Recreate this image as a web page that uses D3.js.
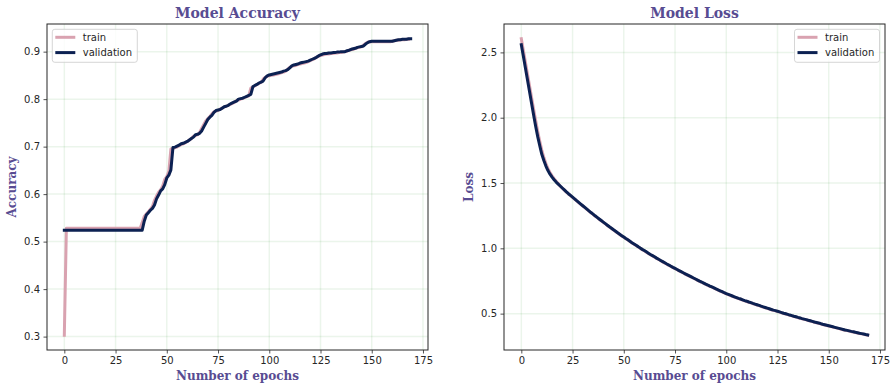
<!DOCTYPE html>
<html><head><meta charset="utf-8">
<script src="https://cdn.jsdelivr.net/npm/d3@7"></script>
<style>body{margin:0;background:#fff}svg{display:block}</style>
</head><body><svg id="c" width="895" height="391"></svg>
<script>
// ---------- data ----------
const epochs = d3.range(170);
const xTicks = [0,25,50,75,100,125,150,175];
const accTicks = [0.3,0.4,0.5,0.6,0.7,0.8,0.9];
const lossTicks = [0.5,1.0,1.5,2.0,2.5];
const seriesNames = ["train","validation"];

const trainAcc = [0.303,
0.528,0.528,0.528,0.528,0.528,0.528,0.528,0.528,0.528,0.528,0.528,0.528,0.528,0.528,0.528,0.528,0.528,0.528,0.528,
0.528,0.528,0.528,0.528,0.528,0.528,0.528,0.528,0.528,0.528,0.528,0.528,0.528,0.528,0.528,0.528,0.528,0.528,
0.540,0.553,0.558,0.563,0.568,0.574,0.587,0.596,0.604,0.609,0.617,
0.631,0.637,0.648,0.695,0.696,0.698,0.699,0.702,0.704,0.706,
0.708,0.711,0.714,0.717,0.722,0.723,0.725,0.730,0.738,0.746,
0.754,0.759,0.763,0.769,0.773,0.775,0.776,0.779,0.781,0.783,
0.785,0.787,0.789,0.791,0.793,0.797,0.798,0.800,0.801,0.803,
0.805,0.807,0.823,0.826,0.828,0.831,0.833,0.835,0.842,0.846,
0.848,0.849,0.850,0.851,0.852,0.853,0.854,0.856,0.857,0.859,
0.863,0.867,0.869,0.870,0.871,0.873,0.874,0.875,0.876,0.877,
0.879,0.881,0.883,0.885,0.888,0.890,0.892,0.893,0.894,0.895,
0.895,0.896,0.896,0.897,0.897,0.898,0.898,0.899,0.900,0.901,
0.903,0.904,0.905,0.907,0.908,0.909,0.910,0.914,0.917,0.920,
0.921,0.921,0.921,0.921,0.921,0.921,0.921,0.921,0.921,0.921,0.921,
0.922,0.923,0.924,0.924,0.925,0.925,0.925,0.926,0.926];

const valAcc = [
0.524,0.524,0.524,0.524,0.524,0.524,0.524,0.524,0.524,0.524,
0.524,0.524,0.524,0.524,0.524,0.524,0.524,0.524,0.524,0.524,
0.524,0.524,0.524,0.524,0.524,0.524,0.524,0.524,0.524,0.524,
0.524,0.524,0.524,0.524,0.524,0.524,0.524,0.524,0.524,
0.543,0.556,0.561,0.566,0.570,0.577,0.590,0.598,0.607,0.611,0.620,
0.634,0.640,0.651,0.698,0.699,0.701,0.703,0.706,0.707,0.709,
0.711,0.714,0.717,0.720,0.725,0.726,0.728,0.733,0.741,0.749,
0.757,0.762,0.766,0.772,0.776,0.777,0.778,0.781,0.784,0.785,
0.787,0.790,0.792,0.794,0.796,0.800,0.801,0.802,0.804,0.806,
0.808,0.810,0.826,0.829,0.831,0.834,0.836,0.838,0.845,0.849,
0.851,0.852,0.853,0.854,0.855,0.856,0.857,0.859,0.860,0.862,
0.866,0.870,0.872,0.873,0.874,0.876,0.877,0.878,0.879,0.880,
0.882,0.884,0.886,0.888,0.891,0.893,0.895,0.896,0.896,0.897,
0.897,0.898,0.898,0.899,0.899,0.900,0.900,0.900,0.902,0.903,
0.905,0.906,0.907,0.909,0.910,0.911,0.912,0.916,0.919,0.921,
0.922,0.922,0.922,0.922,0.922,0.922,0.922,0.922,0.922,0.922,0.922,
0.923,0.924,0.925,0.925,0.926,0.926,0.926,0.927,0.927];

const trainLoss = [2.604,2.515,2.425,2.335,2.245,2.155,2.065,1.978,1.895,1.820,
1.752,1.695,1.650,1.610,1.580,1.555,1.533,1.514,1.497,
1.475,1.460,1.445,1.430,1.416,1.403,1.390,1.377,1.363,1.350,1.337,
1.324,1.311,1.298,1.285,1.272,1.260,1.247,1.235,1.223,1.211,
1.199,1.187,1.175,1.163,1.152,1.140,1.129,1.117,1.106,1.095,
1.084,1.073,1.063,1.052,1.041,1.031,1.021,1.011,1.000,0.990,
0.981,0.971,0.961,0.951,0.942,0.933,0.923,0.914,0.905,0.896,
0.887,0.878,0.870,0.861,0.852,0.844,0.836,0.827,0.819,0.811,
0.803,0.795,0.787,0.779,0.771,0.763,0.755,0.747,0.740,0.732,
0.724,0.717,0.709,0.702,0.695,0.687,0.680,0.673,0.666,0.658,
0.651,0.645,0.639,0.633,0.627,0.621,0.615,0.610,0.604,0.598,
0.593,0.587,0.582,0.576,0.571,0.566,0.561,0.555,0.550,0.545,
0.540,0.535,0.530,0.525,0.521,0.516,0.511,0.506,0.501,0.497,
0.492,0.487,0.483,0.478,0.474,0.469,0.465,0.460,0.456,0.452,
0.447,0.443,0.439,0.434,0.430,0.426,0.422,0.417,0.413,0.409,
0.405,0.401,0.397,0.393,0.389,0.385,0.381,0.377,0.373,0.370,
0.366,0.362,0.359,0.355,0.352,0.348,0.345,0.342,0.338,0.335];

const valLoss = [2.558,2.470,2.380,2.290,2.200,2.110,2.020,1.935,1.855,1.785,
1.720,1.672,1.630,1.595,1.568,1.545,1.525,1.507,1.492,1.477,
1.462,1.447,1.432,1.418,1.405,1.392,1.379,1.365,1.352,1.339,
1.326,1.313,1.300,1.287,1.274,1.262,1.249,1.237,1.225,1.213,
1.201,1.189,1.177,1.165,1.154,1.142,1.131,1.119,1.108,1.097,
1.086,1.075,1.065,1.054,1.043,1.033,1.023,1.013,1.002,0.992,
0.983,0.973,0.963,0.953,0.944,0.935,0.925,0.916,0.907,0.898,
0.889,0.880,0.872,0.863,0.854,0.846,0.838,0.829,0.821,0.813,
0.805,0.797,0.789,0.781,0.773,0.765,0.757,0.749,0.742,0.734,
0.726,0.719,0.711,0.704,0.697,0.689,0.682,0.675,0.668,0.660,
0.653,0.647,0.641,0.635,0.629,0.623,0.617,0.612,0.606,0.600,
0.595,0.589,0.584,0.578,0.573,0.568,0.563,0.557,0.552,0.547,
0.542,0.537,0.532,0.527,0.523,0.518,0.513,0.508,0.503,0.499,
0.494,0.489,0.485,0.480,0.476,0.471,0.467,0.462,0.458,0.454,
0.449,0.445,0.441,0.436,0.432,0.428,0.424,0.419,0.415,0.411,
0.407,0.403,0.399,0.395,0.391,0.387,0.383,0.379,0.375,0.372,
0.368,0.364,0.361,0.357,0.354,0.350,0.347,0.344,0.340,0.337];

// ---------- style ----------
const TRAIN_COLOR = "#d9a2b0";
const VAL_COLOR = "#0c2152";
const LABEL_COLOR = "#584c92";
const AX_COLOR = "#262626";
const W = 381, H = 326;

const svg = d3.select("#c");

function pad(ext){ const m=(ext[1]-ext[0])*0.05; return [ext[0]-m, ext[1]+m]; }

function panel(ox, oy, title, ylabel, yTicks, yFmt, tr, va, legendRight){
  const g = svg.append("g").attr("transform",`translate(${ox},${oy})`);
  const x = d3.scaleLinear().domain(pad(d3.extent(epochs))).range([0,W]);
  const y = d3.scaleLinear().domain(pad(d3.extent(tr.concat(va)))).range([H,0]);

  // grid
  g.append("g").selectAll("line.gx").data(xTicks).join("line")
    .attr("x1",d=>x(d)).attr("x2",d=>x(d)).attr("y1",0).attr("y2",H)
    .attr("stroke","green").attr("stroke-opacity",0.08).attr("stroke-width",1.5);
  g.append("g").selectAll("line.gy").data(yTicks).join("line")
    .attr("y1",d=>y(d)).attr("y2",d=>y(d)).attr("x1",0).attr("x2",W)
    .attr("stroke","green").attr("stroke-opacity",0.08).attr("stroke-width",1.5);

  // lines
  const line = d3.line().x((d,i)=>x(epochs[i])).y(d=>y(d));
  g.append("path").datum(tr).attr("d",line).attr("fill","none")
    .attr("stroke",TRAIN_COLOR).attr("stroke-width",3).attr("stroke-linejoin","round").attr("stroke-linecap","square");
  g.append("path").datum(va).attr("d",line).attr("fill","none")
    .attr("stroke",VAL_COLOR).attr("stroke-width",3).attr("stroke-linejoin","round").attr("stroke-linecap","square");

  // axes
  const xa = g.append("g").attr("transform",`translate(0,${H})`)
    .call(d3.axisBottom(x).tickValues(xTicks).tickSize(3.5).tickPadding(3.5).tickFormat(d3.format("d")));
  const ya = g.append("g")
    .call(d3.axisLeft(y).tickValues(yTicks).tickSize(3.5).tickPadding(3.5).tickFormat(yFmt));
  [xa,ya].forEach(a=>{
    a.select(".domain").remove();
    a.selectAll("line").attr("stroke",AX_COLOR).attr("stroke-width",0.8);
    a.selectAll("text").attr("fill",AX_COLOR).style("font-family","'DejaVu Sans'").style("font-size","10px");
  });
  g.append("rect").attr("x",0).attr("y",0).attr("width",W).attr("height",H)
    .attr("fill","none").attr("stroke",AX_COLOR).attr("stroke-width",1);

  // title & labels
  g.append("text").attr("x",W/2).attr("y",-6.5).attr("text-anchor","middle")
    .style("font-family","'DejaVu Serif'").style("font-weight","bold").style("font-size","14px")
    .attr("fill",LABEL_COLOR).text(title);
  g.append("text").attr("x",W/2).attr("y",H+30).attr("text-anchor","middle")
    .style("font-family","'DejaVu Serif'").style("font-weight","bold").style("font-size","12px")
    .attr("fill",LABEL_COLOR).text("Number of epochs");
  g.append("text").attr("transform",`translate(-31,${H/2}) rotate(-90)`).attr("text-anchor","middle")
    .style("font-family","'DejaVu Serif'").style("font-weight","bold").style("font-size","12px")
    .attr("fill",LABEL_COLOR).text(ylabel);

  // legend
  const lw = 85, lh = 33;
  const lx = legendRight ? W - 5.5 - lw : 5.3, ly = 5.3;
  const lg = g.append("g").attr("transform",`translate(${lx},${ly})`);
  lg.append("rect").attr("width",lw).attr("height",lh).attr("rx",2.5)
    .attr("fill","white").attr("fill-opacity",0.8).attr("stroke","#cccccc").attr("stroke-width",0.8);
  const colors = [TRAIN_COLOR, VAL_COLOR];
  seriesNames.forEach((n,i)=>{
    const yy = 8 + i*15.3;
    lg.append("line").attr("x1",3).attr("x2",23).attr("y1",yy).attr("y2",yy)
      .attr("stroke",colors[i]).attr("stroke-width",3);
    lg.append("text").attr("x",30.5).attr("y",yy+3.6).attr("fill",AX_COLOR)
      .style("font-family","'DejaVu Sans'").style("font-size","10px").text(n);
  });
}

panel(47, 24, "Model Accuracy", "Accuracy", accTicks, d3.format(".1f"), trainAcc, valAcc, false);
panel(504, 24, "Model Loss", "Loss", lossTicks, d3.format(".1f"), trainLoss, valLoss, true);
</script>
</body></html>
